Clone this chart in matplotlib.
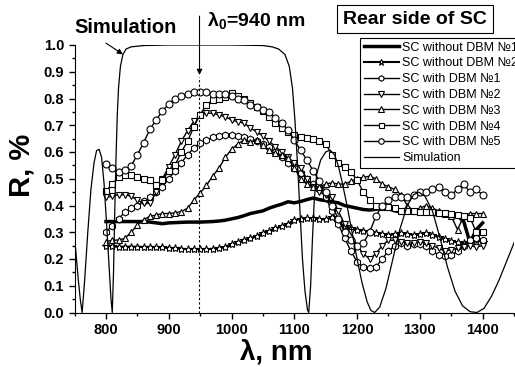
import matplotlib as mpl
import matplotlib.pyplot as plt
import numpy as np

mpl.rcParams["font.family"] = ["Liberation Sans", "DejaVu Sans"]
mpl.rcParams["mathtext.fontset"] = "custom"
mpl.rcParams["mathtext.bf"] = "Liberation Sans:bold"
mpl.rcParams["mathtext.default"] = "bf"

# measured spectra, 800..1400 nm every 10 nm
lam = np.arange(800, 1401, 10)

no_dbm1 = [0.340, 0.340, 0.340, 0.340, 0.340, 0.340, 0.340, 0.338, 0.335, 0.332,
           0.335, 0.336, 0.337, 0.338, 0.338, 0.338, 0.339, 0.340, 0.342, 0.345,
           0.350, 0.355, 0.362, 0.370, 0.375, 0.380, 0.390, 0.398, 0.405, 0.414,
           0.410, 0.415, 0.422, 0.428, 0.422, 0.418, 0.414, 0.410, 0.400, 0.395,
           0.390, 0.385, 0.383, 0.386, 0.390, 0.388, 0.380, 0.376, 0.375, 0.373,
           0.372, 0.372, 0.368, 0.364, 0.364, 0.364, 0.362, 0.340, 0.260, 0.310,
           0.335]
no_dbm2 = [0.250, 0.248, 0.246, 0.246, 0.246, 0.246, 0.245, 0.245, 0.244, 0.243,
           0.242, 0.240, 0.238, 0.237, 0.237, 0.237, 0.237, 0.238, 0.240, 0.246,
           0.255, 0.262, 0.270, 0.278, 0.285, 0.298, 0.305, 0.315, 0.322, 0.332,
           0.345, 0.350, 0.353, 0.352, 0.348, 0.348, 0.356, 0.340, 0.322, 0.316,
           0.310, 0.306, 0.302, 0.298, 0.292, 0.290, 0.293, 0.297, 0.295, 0.290,
           0.293, 0.297, 0.290, 0.283, 0.275, 0.266, 0.262, 0.260, 0.265, 0.270,
           0.265]
dbm1 = [0.300, 0.325, 0.350, 0.375, 0.390, 0.400, 0.415, 0.430, 0.450, 0.470,
        0.500, 0.530, 0.560, 0.590, 0.615, 0.635, 0.645, 0.655, 0.660, 0.665,
        0.663, 0.660, 0.655, 0.648, 0.640, 0.630, 0.620, 0.600, 0.580, 0.560,
        0.540, 0.520, 0.500, 0.480, 0.460, 0.430, 0.380, 0.330, 0.280, 0.230,
        0.190, 0.170, 0.165, 0.170, 0.200, 0.230, 0.250, 0.260, 0.250, 0.255,
        0.255, 0.250, 0.230, 0.215, 0.210, 0.215, 0.230, 0.250, 0.270, 0.280,
        0.270]
dbm2 = [0.430, 0.435, 0.440, 0.440, 0.435, 0.420, 0.408, 0.408, 0.450, 0.500,
        0.545, 0.590, 0.640, 0.680, 0.715, 0.738, 0.745, 0.745, 0.738, 0.732,
        0.720, 0.713, 0.708, 0.690, 0.675, 0.660, 0.640, 0.620, 0.600, 0.580,
        0.560, 0.540, 0.500, 0.470, 0.450, 0.440, 0.430, 0.380, 0.330, 0.300,
        0.250, 0.220, 0.200, 0.220, 0.250, 0.270, 0.270, 0.265, 0.260, 0.260,
        0.265, 0.260, 0.250, 0.240, 0.230, 0.235, 0.240, 0.245, 0.250, 0.245,
        0.250]
dbm3 = [0.265, 0.270, 0.271, 0.277, 0.300, 0.327, 0.346, 0.360, 0.364, 0.370,
        0.370, 0.373, 0.377, 0.390, 0.420, 0.447, 0.475, 0.510, 0.540, 0.580,
        0.610, 0.630, 0.645, 0.638, 0.645, 0.626, 0.607, 0.595, 0.589, 0.576,
        0.540, 0.500, 0.480, 0.470, 0.470, 0.480, 0.485, 0.480, 0.480, 0.490,
        0.500, 0.505, 0.510, 0.500, 0.480, 0.470, 0.460, 0.440, 0.400, 0.380,
        0.390, 0.400, 0.390, 0.380, 0.370, 0.360, 0.310, 0.360, 0.370, 0.370,
        0.370]
dbm4 = [0.455, 0.480, 0.505, 0.514, 0.514, 0.508, 0.500, 0.495, 0.477, 0.495,
        0.530, 0.550, 0.600, 0.640, 0.695, 0.740, 0.776, 0.794, 0.800, 0.807,
        0.820, 0.810, 0.800, 0.785, 0.770, 0.755, 0.730, 0.707, 0.690, 0.675,
        0.664, 0.657, 0.651, 0.647, 0.640, 0.630, 0.590, 0.560, 0.545, 0.526,
        0.495, 0.450, 0.420, 0.400, 0.395, 0.395, 0.390, 0.380, 0.380, 0.380,
        0.376, 0.376, 0.375, 0.372, 0.372, 0.370, 0.365, 0.360, 0.355, 0.300,
        0.300]
dbm5 = [0.554, 0.539, 0.526, 0.533, 0.548, 0.590, 0.635, 0.685, 0.720, 0.754,
        0.779, 0.800, 0.809, 0.817, 0.823, 0.823, 0.823, 0.816, 0.817, 0.816,
        0.810, 0.800, 0.795, 0.776, 0.770, 0.757, 0.750, 0.726, 0.707, 0.682,
        0.645, 0.607, 0.570, 0.530, 0.490, 0.450, 0.400, 0.350, 0.300, 0.270,
        0.250, 0.260, 0.300, 0.360, 0.400, 0.420, 0.430, 0.430, 0.430, 0.440,
        0.450, 0.450, 0.460, 0.470, 0.450, 0.440, 0.460, 0.480, 0.450, 0.460,
        0.440]

# simulated reflectance of the mirror
sim_lam = [750, 753, 756, 759, 762, 766, 771, 776, 781, 785, 789, 793, 797, 801,
           805, 808, 810, 812, 814, 816, 818, 820, 823, 827, 832, 840, 860, 900,
           1000, 1050, 1065, 1075, 1085, 1092, 1097, 1101, 1105, 1109, 1113, 1117,
           1121, 1123, 1126, 1129, 1132, 1136, 1142, 1150, 1157, 1164, 1170, 1176,
           1184, 1192, 1200, 1208, 1216, 1222, 1228, 1236, 1246, 1257, 1268, 1280,
           1290, 1298, 1308, 1320, 1332, 1344, 1356, 1368, 1380, 1391, 1402, 1414,
           1426, 1438, 1450]
sim_R = [0.28, 0.20, 0.12, 0.05, 0.0, 0.12, 0.30, 0.46, 0.56, 0.605, 0.61, 0.58,
         0.48, 0.33, 0.17, 0.05, 0.0, 0.15, 0.38, 0.58, 0.74, 0.84, 0.92, 0.965,
         0.985, 0.993, 0.998, 1.0, 1.0, 0.998, 0.993, 0.985, 0.965, 0.92, 0.84,
         0.72, 0.56, 0.38, 0.20, 0.08, 0.01, 0.0, 0.10, 0.28, 0.43, 0.52, 0.57,
         0.60, 0.607, 0.59, 0.55, 0.49, 0.40, 0.30, 0.20, 0.11, 0.04, 0.008, 0.0,
         0.02, 0.09, 0.20, 0.31, 0.40, 0.44, 0.45, 0.435, 0.38, 0.28, 0.17, 0.08,
         0.025, 0.003, 0.0, 0.015, 0.06, 0.12, 0.19, 0.26]

labels = ["SC without DBM №1", "SC without DBM №2", "SC with DBM №1",
          "SC with DBM №2", "SC with DBM №3", "SC with DBM №4",
          "SC with DBM №5", "Simulation"]

fig = plt.figure(figsize=(5.15, 3.67), dpi=100)
ax = fig.add_axes([74.6 / 515, 54.5 / 367, 439.4 / 515, 267.5 / 367])

mk = dict(mfc="white", mec="black", mew=0.8, ms=5, color="black", lw=1)
h = []
h += ax.plot(lam, no_dbm1, color="black", lw=2.5)
h += ax.plot(lam, no_dbm2, marker="*", **dict(mk, lw=1.5, ms=6))
h += ax.plot(lam, dbm1, marker="h", **mk)
h += ax.plot(lam, dbm2, marker="v", **mk)
h += ax.plot(lam, dbm3, marker="^", **mk)
h += ax.plot(lam, dbm4, marker="s", **dict(mk, ms=4.5))
h += ax.plot(lam, dbm5, marker="o", **mk)
h += ax.plot(sim_lam, sim_R, color="black", lw=0.9)

ax.plot([948, 948], [0, 0.88], color="black", lw=0.8, ls=(0, (2, 2)))

ax.set_xlim(750, 1450)
ax.set_ylim(0, 1.0)
ax.set_xticks(np.arange(800, 1401, 100))
ax.set_xticks(np.arange(750, 1451, 50), minor=True)
ax.set_yticks(np.arange(0, 1.01, 0.1))
ax.set_yticks(np.arange(0, 1.01, 0.05), minor=True)
ax.yaxis.set_major_formatter(mpl.ticker.FormatStrFormatter("%.1f"))
ax.spines["top"].set_visible(False)
ax.spines["right"].set_visible(False)
ax.tick_params(which="major", direction="out", length=4, width=1, labelsize=10.5)
ax.tick_params(which="minor", direction="out", length=2, width=1)
for t in ax.get_xticklabels() + ax.get_yticklabels():
    t.set_fontweight("bold")

fig.text(276 / 515, 1 - 359 / 367, "λ, nm", fontsize=20, fontweight="bold",
         ha="center", va="baseline")
fig.text(21 / 515, 1 - 165 / 367, "R, %", fontsize=21, fontweight="bold",
         ha="center", va="center", rotation=90)

# annotations
ax.annotate("", xy=(827, 0.965), xytext=(800, 1.007), annotation_clip=False,
            arrowprops=dict(arrowstyle="-|>", color="black", lw=0.8,
                            mutation_scale=8, shrinkA=0, shrinkB=0))
ax.annotate("", xy=(949, 0.888), xytext=(949, 1.108), annotation_clip=False,
            arrowprops=dict(arrowstyle="-|>", color="black", lw=0.8,
                            mutation_scale=8, shrinkA=0, shrinkB=0))
fig.text(74 / 515, 1 - 33 / 367, "Simulation", fontsize=14.5, fontweight="bold",
         ha="left", va="baseline")
fig.text(207 / 515, 1 - 26 / 367, r"λ$_0$=940 nm", fontsize=14, fontweight="bold",
         ha="left", va="baseline")
fig.text(415 / 515, 1 - 19 / 367, "Rear side of SC", fontsize=14,
         fontweight="bold", ha="center", va="center",
         bbox=dict(boxstyle="square,pad=0.3", fc="white", ec="black", lw=0.8))

leg = fig.legend(h, labels, loc="upper left", bbox_to_anchor=(360 / 515, 1 - 38 / 367),
                 fontsize=9, frameon=True, fancybox=False, framealpha=1,
                 edgecolor="black", borderpad=0.3, labelspacing=0.3,
                 handlelength=2.8, handletextpad=0.3, borderaxespad=0,
                 markerscale=0.8)
leg.get_frame().set_linewidth(0.8)

fig.savefig("out.png", dpi=100)
